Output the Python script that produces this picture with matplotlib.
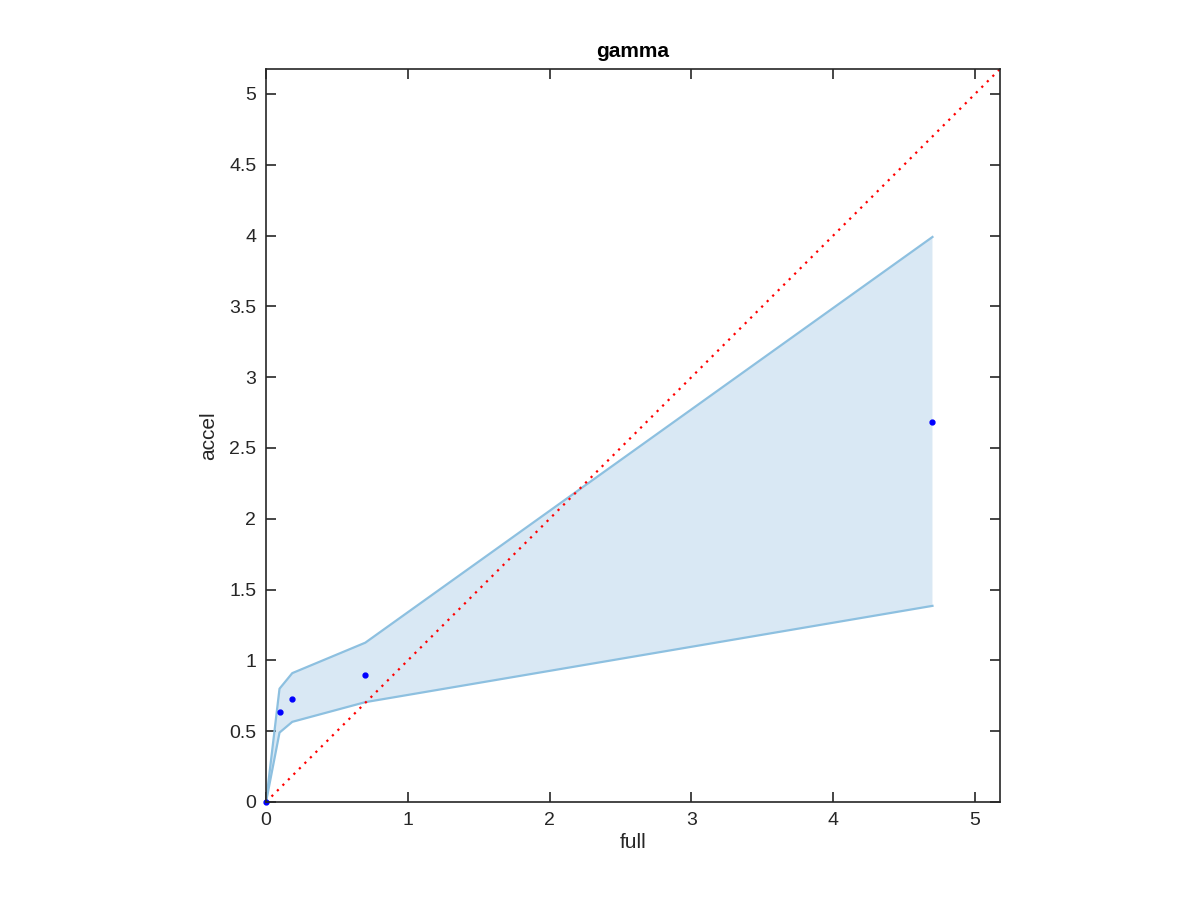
import numpy as np
import matplotlib.pyplot as plt

plt.rcParams['font.family'] = ['Liberation Sans', 'DejaVu Sans']

full = [0.0, 0.095, 0.185, 0.70, 4.70]
accel = [0.0, 0.635, 0.726, 0.899, 2.68]
band_hi = [0.0, 0.80, 0.91, 1.125, 3.99]
band_lo = [0.0, 0.49, 0.566, 0.705, 1.385]
lim = 5.176

fig = plt.figure(figsize=(12, 9), dpi=100)
ax = fig.add_axes([0.2217, 0.1089, 0.6116, 0.8144])

ax.fill_between(full, band_lo, band_hi, facecolor='#d9e8f4', edgecolor='none')
ax.plot(full, band_hi, color='#8dc0e0', lw=1.6)
ax.plot(full, band_lo, color='#8dc0e0', lw=1.6)
ax.plot([0, lim], [0, lim], color='red', ls=(0, (1, 2.5)), lw=1.6)
ax.plot(full, accel, 'o', color='blue', ms=3.5, clip_on=False)

ax.set_xlim(0, lim)
ax.set_ylim(0, lim)
ax.set_xticks(np.arange(0, 6, 1))
ax.set_yticks(np.arange(0, 5.5, 0.5))
ax.set_yticklabels(['0', '0.5', '1', '1.5', '2', '2.5', '3', '3.5', '4', '4.5', '5'])
ax.tick_params(direction='in', top=True, right=True, length=7, width=1.2,
               labelsize=14, colors='#262626')
ax.tick_params(axis='x', pad=7)
ax.tick_params(axis='y', pad=7)
for s in ax.spines.values():
    s.set_color('#262626')
    s.set_linewidth(1.2)

ax.set_xlabel('full', fontsize=15, color='#262626', labelpad=3)
ax.set_ylabel('accel', fontsize=15, color='#262626', labelpad=8)
ax.set_title('gamma', fontsize=15, fontweight='bold', pad=9)

fig.savefig('out.png')
